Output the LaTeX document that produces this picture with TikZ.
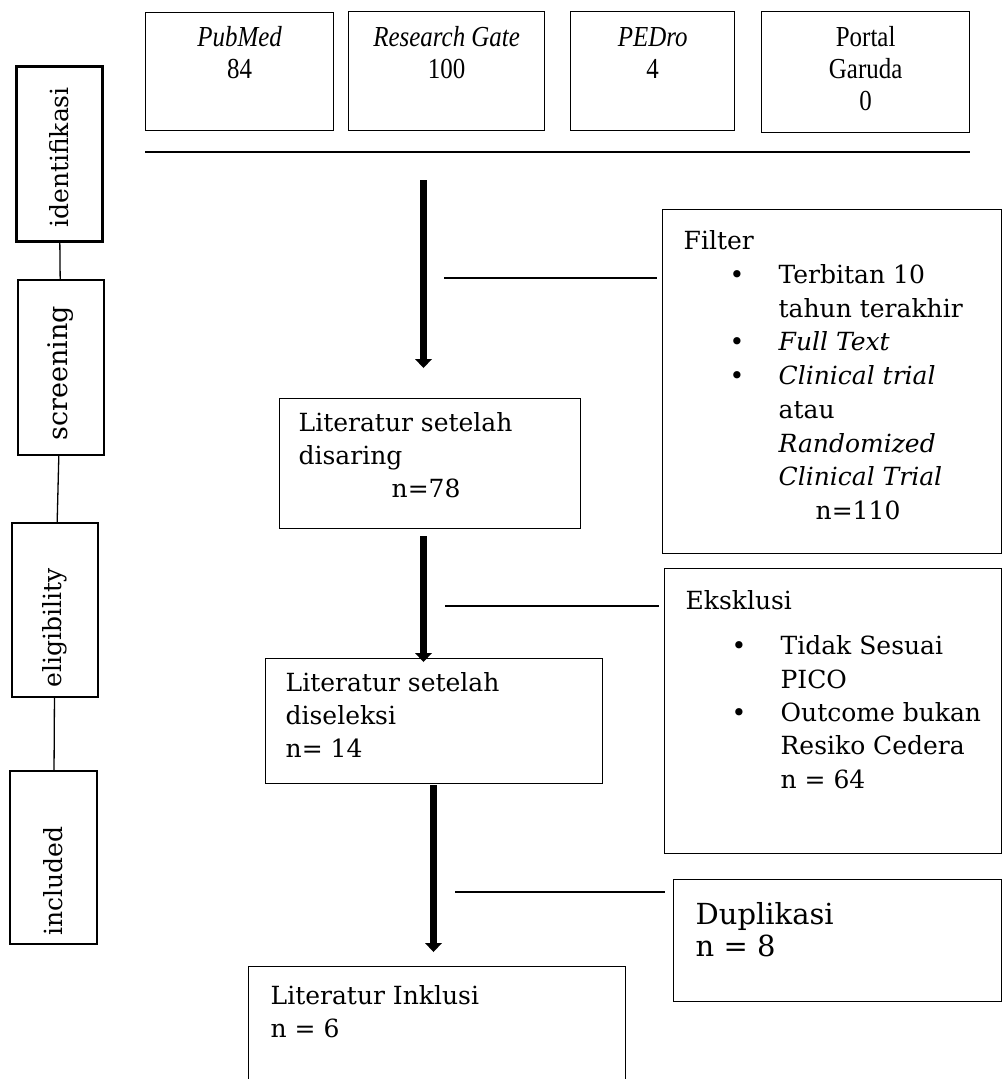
\documentclass[tikz,border=0pt]{standalone}
\usepackage{graphicx}
\usepackage{fontspec}
\setmainfont{DejaVu Serif}
\newfontfamily\srcfont{Liberation Serif}
\usetikzlibrary{arrows.meta, calc}

% first line of a box at a fixed depth from its top
\newcommand{\firstrow}[1]{\rule{0pt}{#1}}
\newcommand{\bul}{\hspace*{46pt}\makebox[49pt][l]{\textbullet}}
\newcommand{\cont}{\hspace*{95pt}}
\newcommand{\cond}[1]{\scalebox{0.86}[1]{#1}}
\newcommand{\boxtext}[5]{\parbox[t][#2][t]{#1}{\raggedright\leftskip=#3\relax\firstrow{#4}#5}}

\begin{document}
\begin{tikzpicture}[x=1pt, y=-1pt,
  font=\fontsize{25}{33}\selectfont,
  stage/.style={draw, line width=1.3pt, rotate=90, inner sep=0pt,
    minimum width=174pt, minimum height=86pt},
  srcbox/.style={draw, line width=1.3pt, anchor=north west, inner sep=0pt,
    font=\srcfont\fontsize{29}{32}\selectfont},
  stepbox/.style={draw, line width=1.3pt, anchor=north west, inner sep=0pt},
  flow/.style={line width=7pt, -{Triangle[width=17pt, length=9pt, line width=0pt]}},
  link/.style={line width=1.3pt}
]
\useasboundingbox (0,0) rectangle (1003,1079);
\clip (0,0) rectangle (1003,1079);

% stages on the left
\node[stage, line width=3pt, minimum width=175pt] (ident) at (59,153.5) {identifikasi\hspace*{8pt}};
\node[stage, minimum width=175pt, font=\fontsize{27}{30}\selectfont] (screen) at (61,367.5) {screening\hspace*{11pt}};
\node[stage] (elig) at (55,610) {eligibility\hspace*{36pt}};
\node[stage, minimum width=173pt, minimum height=87pt] (incl) at (53.5,857.5) {included\hspace*{47pt}};

\draw[link] (ident) -- (screen);
\draw[link] (screen) -- (elig);
\draw[link] (elig) -- (incl);

% sources
\node[srcbox] (pubmed) at (145,12)
  {\parbox[t][118pt][t]{188pt}{\centering\firstrow{34pt}\cond{\textit{PubMed}}\\\cond{84}}};
\node[srcbox] (rgate) at (348,11)
  {\parbox[t][119pt][t]{196pt}{\centering\firstrow{35pt}\cond{\textit{Research Gate}}\\\cond{100}}};
\node[srcbox] (pedro) at (570,11)
  {\parbox[t][119pt][t]{164pt}{\centering\firstrow{35pt}\cond{\textit{PEDro}}\\\cond{4}}};
\node[srcbox] (garuda) at (761,11)
  {\parbox[t][121pt][t]{208pt}{\centering\firstrow{35pt}\cond{Portal}\\\cond{Garuda}\\\cond{0}}};

\draw[link] (145,152) -- (970,152);

% main flow
\node[stepbox] (disaring) at (279,398)
  {\boxtext{301pt}{130pt}{19pt}{33pt}{Literatur setelah\\disaring\\\hspace*{93pt}n=78}};
\node[stepbox] (diseleksi) at (265,658)
  {\boxtext{337pt}{125pt}{20pt}{33pt}{Literatur setelah\\diseleksi\\n= 14}};
\node[stepbox] (inklusi) at (248,966)
  {\boxtext{377pt}{140pt}{22pt}{38pt}{Literatur Inklusi\\n = 6}};

% removed records
\node[stepbox, font=\fontsize{25}{33.75}\selectfont] (filter) at (662,209)
  {\boxtext{339pt}{344pt}{21pt}{40pt}{Filter\\
   \bul Terbitan 10\\
   \cont tahun terakhir\\
   \bul \textit{Full Text}\\
   \bul \textit{Clinical trial}\\
   \cont atau\\
   \cont \textit{Randomized}\\
   \cont \textit{Clinical Trial}\\
   \hspace*{132pt}n=110}};
\node[stepbox, font=\fontsize{25}{33.3}\selectfont] (eksklusi) at (664,568)
  {\boxtext{337pt}{285pt}{21pt}{41pt}{Eksklusi\\[12pt]
   \bul Tidak Sesuai\\
   \cont PICO\\
   \bul Outcome bukan\\
   \cont Resiko Cedera\\
   \cont n = 64}};
\node[stepbox, font=\fontsize{29}{32}\selectfont] (duplikasi) at (673,879)
  {\boxtext{328pt}{122pt}{22pt}{45pt}{Duplikasi\\n = 8}};

\coordinate (a1) at (423.5,180);
\coordinate (a1e) at (423.5,368);
\coordinate (a2) at (423.5,536);
\coordinate (a2e) at (423.5,662);
\coordinate (a3) at (433.5,785);
\coordinate (a3e) at (433.5,952);
\draw[flow] (a1) -- (a1e);
\draw[flow] (a2) -- (a2e);
\draw[flow] (a3) -- (a3e);

\coordinate (s1) at (444,278);
\coordinate (s2) at (445,606);
\coordinate (s3) at (455,892);
\draw[link] (s1) -- ($(s1 -| filter.west)+(-5,0)$);
\draw[link] (s2) -- ($(s2 -| eksklusi.west)+(-5,0)$);
\draw[link] (s3) -- ($(s3 -| duplikasi.west)+(-8,0)$);

\end{tikzpicture}
\end{document}
